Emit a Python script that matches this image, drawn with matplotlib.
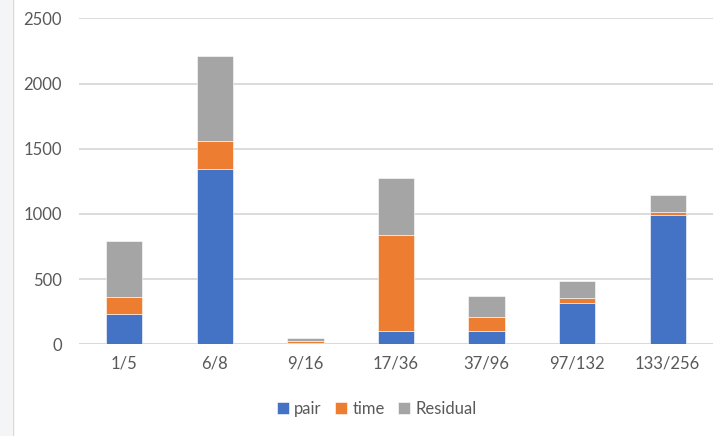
import matplotlib
matplotlib.use("Agg")
import matplotlib.pyplot as plt
from matplotlib.patches import Rectangle
import numpy as np

categories = ["1/5", "6/8", "9/16", "17/36", "37/96", "97/132", "133/256"]
pair = [235, 1347, 12, 104, 104, 319, 994]
time = [130, 212, 15, 734, 108, 38, 23]
residual = [427, 649, 24, 437, 156, 128, 128]

colors = {"pair": "#4472C4", "time": "#ED7D31", "Residual": "#A5A5A5"}
text_color = "#595959"
plt.rcParams["font.family"] = ["Lato", "DejaVu Sans"]

fig = plt.figure(figsize=(7.2, 4.36), dpi=100)
fig.patch.set_facecolor("white")

# light strip and border line on the left edge
fig.patches.append(Rectangle((0, 0), 12 / 720, 1, transform=fig.transFigure,
                             facecolor="#f4f5f7", edgecolor="none", zorder=0))
fig.lines.append(plt.Line2D([12.5 / 720, 12.5 / 720], [0, 1], transform=fig.transFigure,
                            color="#d9d9d9", linewidth=1.0))

ax = fig.add_axes([79 / 720, 1 - 344.3 / 436, (713 - 79) / 720, (344.3 - 18.3) / 436])
x = np.arange(len(categories))
w = 0.40
p = np.array(pair)
t = np.array(time)
r = np.array(residual)
ax.bar(x, p, w, color=colors["pair"], label="pair", edgecolor="white", linewidth=0.4, zorder=3)
ax.bar(x, t, w, bottom=p, color=colors["time"], label="time", edgecolor="white", linewidth=0.4, zorder=3)
ax.bar(x, r, w, bottom=p + t, color=colors["Residual"], label="Residual", edgecolor="white", linewidth=0.4, zorder=3)

ax.set_xlim(-0.5, len(categories) - 0.5)
ax.set_ylim(0, 2500)
ax.set_yticks(range(0, 2501, 500))
ax.yaxis.grid(True, color="#d9d9d9", linewidth=1.3, zorder=0)
ax.set_axisbelow(True)
for s in ax.spines.values():
    s.set_visible(False)
ax.axhline(0, color="#d9d9d9", linewidth=1.3, zorder=2)
ax.tick_params(axis="both", length=0, labelsize=12, colors=text_color)
ax.tick_params(axis="y", pad=12.5)
ax.tick_params(axis="x", pad=8)
ax.set_xticks(x)
ax.set_xticklabels(categories)

leg = fig.legend(loc="center", bbox_to_anchor=(377 / 720, 1 - 409 / 436), ncol=3,
                 frameon=False, fontsize=12, handlelength=0.7, handleheight=0.7,
                 handletextpad=0.35, columnspacing=0.8)
for txt in leg.get_texts():
    txt.set_color(text_color)

fig.savefig("out.png", dpi=100, facecolor=fig.get_facecolor())
